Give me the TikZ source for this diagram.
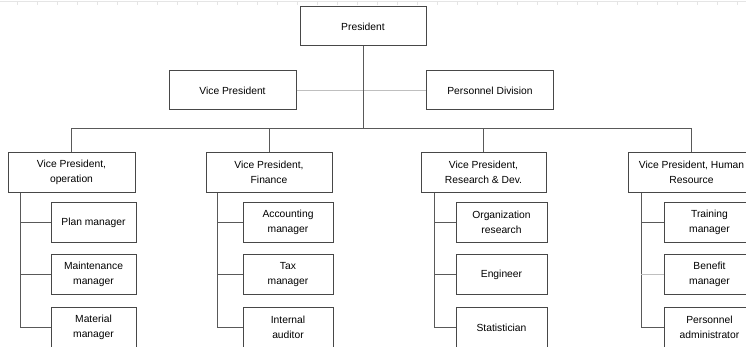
\documentclass[tikz,border=0pt]{standalone}
\usepackage{fontspec}
\setmainfont{Liberation Sans}
\begin{document}
\begin{tikzpicture}[x=1pt,y=-1pt,
  box/.style={draw=black!72, line width=1pt, fill=white, align=center, inner sep=1pt,
    font=\fontsize{10.3}{15}\selectfont, text=black},
  link/.style={draw=black!65, line width=0.95pt},
  faint/.style={draw=black!25, line width=1.5pt},
  grid/.style={draw=black!10, line width=0.6pt}]
\useasboundingbox (0,0) rectangle (746,347);
\clip (0,0) rectangle (746,347);
% faint spreadsheet grid at top
\draw[grid] (0,1.5) -- (746,1.5);
\foreach \i in {0,...,36} \draw[grid] (17+20*\i,1.5) -- (17+20*\i,5);
% top level
\node[box, minimum width=126, minimum height=39] (pres) at (363,26.5) {President};
\node[box, minimum width=127, minimum height=39] (vp) at (232.5,90.5) {Vice President};
\node[box, minimum width=127, minimum height=39] (pd) at (490,90.5) {Personnel Division};
\coordinate (bus) at (0,128);
% level 2
\node[box, minimum width=127, minimum height=39.5] (c1) at (71.5,172.3) {Vice President,\\operation};
\node[box, minimum width=126, minimum height=39.5] (c2) at (269,172.3) {Vice President,\\Finance};
\node[box, minimum width=125, minimum height=39.5] (c3) at (483.5,172.3) {Vice President,\\Research \& Dev.};
\node[box, minimum width=126, minimum height=39.5, anchor=west] (c4) at (628,172.3) {Vice President, Human\\Resource};
% children
\node[box, minimum width=85, minimum height=40] (a1) at (93.5,222.5) {Plan manager};
\node[box, minimum width=85, minimum height=40] (a2) at (93.5,274.5) {Maintenance\\manager};
\node[box, minimum width=85, minimum height=40] (a3) at (93.5,327.5) {Material\\manager};
\node[box, minimum width=90, minimum height=40] (b1) at (288,222.5) {Accounting\\manager};
\node[box, minimum width=90, minimum height=40] (b2) at (288,274.5) {Tax\\manager};
\node[box, minimum width=90, minimum height=40] (b3) at (288,327.5) {Internal\\auditor};
\node[box, minimum width=91, minimum height=40] (e1) at (501.5,222.5) {Organization\\research};
\node[box, minimum width=91, minimum height=40] (e2) at (501.5,274.5) {Engineer};
\node[box, minimum width=91, minimum height=40] (e3) at (501.5,327.5) {Statistician};
\node[box, minimum width=90, minimum height=40, anchor=west] (h1) at (664,222.5) {Training\\manager};
\node[box, minimum width=90, minimum height=40, anchor=west] (h2) at (664,274.5) {Benefit\\manager};
\node[box, minimum width=90, minimum height=40, anchor=west] (h3) at (664,327.5) {Personnel\\administrator};
% connectors top
\draw[faint] (vp.east) -- (pd.west);
\draw[link] (pres.south) -- (pres.south |- bus);
\draw[link] (c1.north) -- (c1.north |- bus) -- (c4.north |- bus) -- (c4.north);
\draw[link] (c2.north) -- (c2.north |- bus);
\draw[link] (c3.north) -- (c3.north |- bus);
% spines
\coordinate (s1) at ([xshift=13pt]c1.south west);
\coordinate (s2) at ([xshift=12pt]c2.south west);
\coordinate (s3) at ([xshift=14pt]c3.south west);
\coordinate (s4) at ([xshift=13pt]c4.south west);
\draw[link] (s1) |- (a3.west);
\draw[link] (s1 |- a1.west) -- (a1.west);
\draw[link] (s1 |- a2.west) -- (a2.west);
\draw[link] (s2) |- (b3.west);
\draw[link] (s2 |- b1.west) -- (b1.west);
\draw[link] (s2 |- b2.west) -- (b2.west);
\draw[link] (s3) |- (e3.west);
\draw[link] (s3 |- e1.west) -- (e1.west);
\draw[link] (s3 |- e2.west) -- (e2.west);
\draw[link] (s4) |- (h3.west);
\draw[link] (s4 |- h1.west) -- (h1.west);
\draw[faint] (s4 |- h2.west) -- (h2.west);
\end{tikzpicture}
\end{document}
